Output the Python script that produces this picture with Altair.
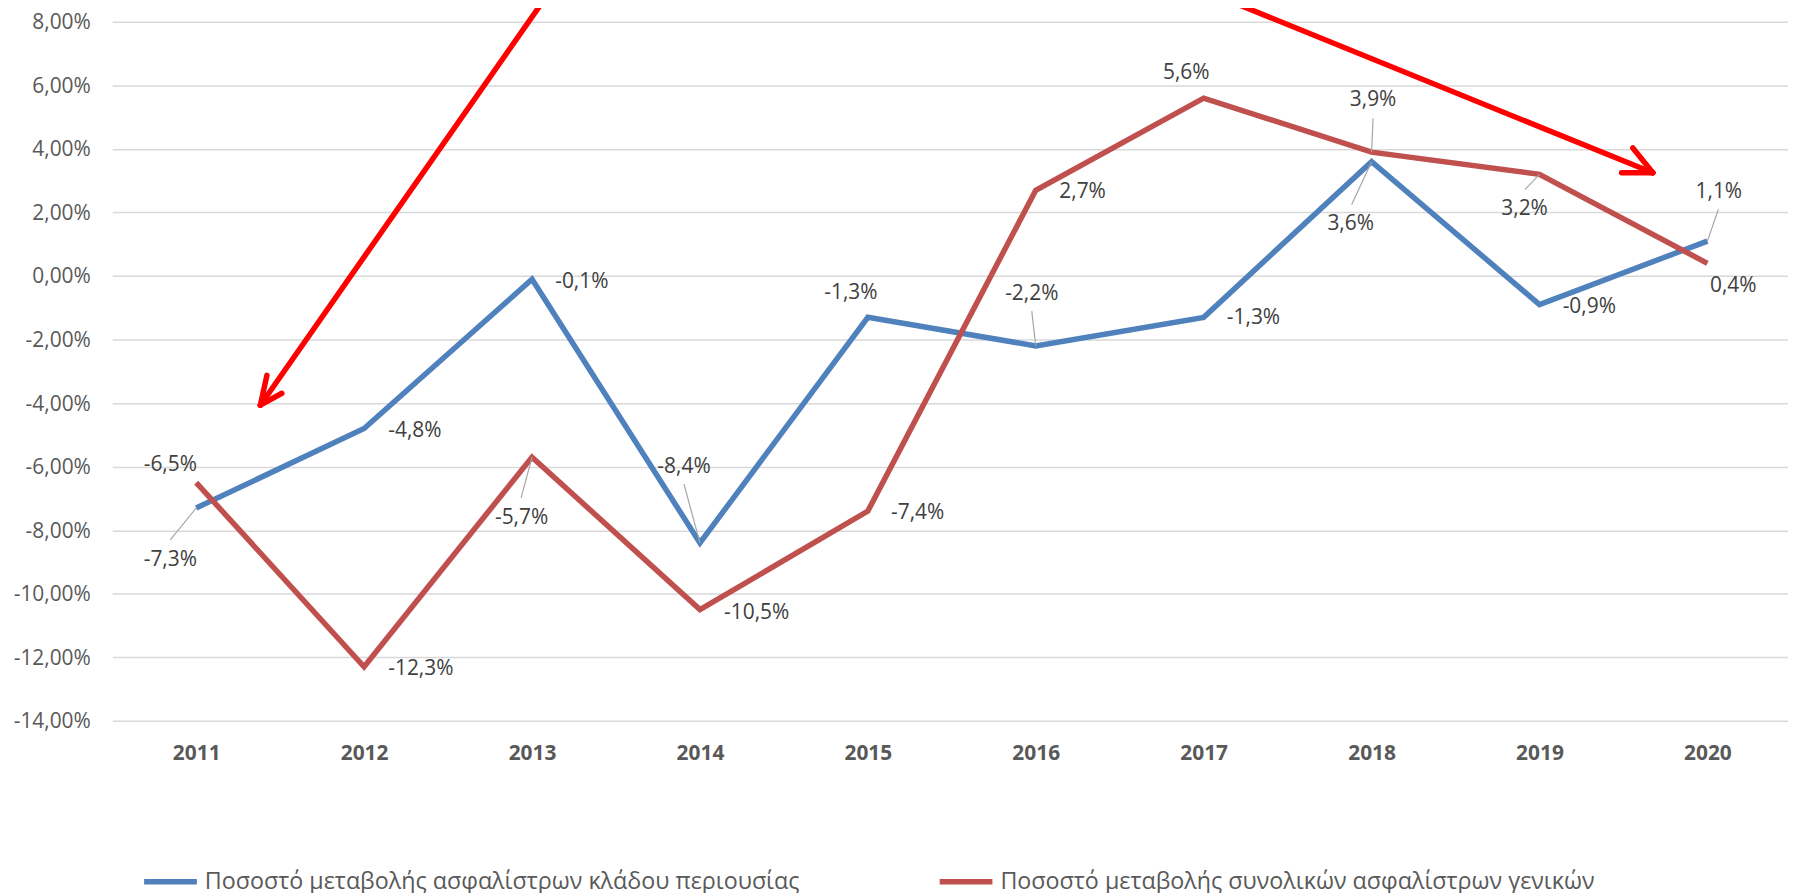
import altair as alt
import pandas as pd

# ---------------- data ----------------
years = [2011, 2012, 2013, 2014, 2015, 2016, 2017, 2018, 2019, 2020]
property_change = [-7.3, -4.8, -0.1, -8.4, -1.3, -2.2, -1.3, 3.6, -0.9, 1.1]
total_change = [-6.5, -12.3, -5.7, -10.5, -7.4, 2.7, 5.6, 3.9, 3.2, 0.4]
series_names = [
    "Ποσοστό μεταβολής ασφαλίστρων κλάδου περιουσίας",
    "Ποσοστό μεταβολής συνολικών ασφαλίστρων γενικών",
]
series_colors = ["#4F81BD", "#C0504D"]
y_ticks = [-14, -12, -10, -8, -6, -4, -2, 0, 2, 4, 6, 8]

# annotation arrows (data coordinates: year, percent)
arrow_x = [2013.063, 2011.421, 2011.510, 2017.167, 2019.489, 2019.556]
arrow_y = [8.63, -3.125, -3.690, 8.63, 3.248, 4.031]
arrow_x2 = [2011.382, 2011.382, 2011.382, 2019.675, 2019.675, 2019.675]
arrow_y2 = [-4.066, -4.066, -4.066, 3.248, 3.248, 3.248]

# ---------------- label placement (pixel offsets, style) ----------------
blue_label_offsets = [(-26, 52), (51, 3), (50, 2.5), (-16, -76), (-17, -24),
                      (-4, -52), (50, 1), (-21, 63), (50, 2), (11.5, -49.5)]
red_label_offsets = [(-26, -17.5), (57, 2), (-10.5, 61), (57, 3), (50, 1.5),
                     (47, 1.5), (-17.5, -25), (1.5, -52), (-15, 35), (26, 22.5)]
blue_leaders = {2011: (-26, 32), 2014: (-16, -59), 2016: (-4, -35),
                2018: (-20, 43), 2020: (11, -32)}
red_leaders = {2013: (-11, 41), 2018: (1.5, -34), 2019: (-14.5, 15)}

FONT = "Open Sans"


def pct_label(v):
    return f"{v:.1f}".replace(".", ",") + "%"


x_scale = alt.Scale(domain=[2010.5, 2020.48], nice=False, zero=False)
y_scale = alt.Scale(domain=[-14, 8], nice=False, zero=False)

x_axis = alt.Axis(
    values=years, format="d", title=None, ticks=False, domain=False, grid=False,
    labelFont=FONT, labelFontSize=21, labelFontWeight="bold", labelColor="#595959",
    labelPadding=22, labelFlush=False, labelOverlap=False,
)
y_axis = alt.Axis(
    values=y_ticks, title=None, ticks=False, domain=False, grid=True,
    gridColor="#D9D9D9", gridWidth=1.5,
    labelFont=FONT, labelFontSize=21, labelColor="#595959", labelPadding=22,
    labelOffset=1,
    labelExpr="(datum.value < 0 ? '-' : '') + replace(format(abs(datum.value), '.2f'), '.', ',') + '%'",
)

X = alt.X("year:Q", scale=x_scale, axis=x_axis)
Y = alt.Y("value:Q", scale=y_scale, axis=y_axis)

legend = alt.Legend(
    orient="none", legendX=29, legendY=834, direction="horizontal", title=None,
    symbolType="stroke", symbolSize=2809, symbolStrokeWidth=5.5,
    labelFont=FONT, labelFontSize=23.4, labelColor="#595959", labelLimit=1200,
    labelOffset=5, columnPadding=129, padding=0,
)
color = alt.Color("series:N", scale=alt.Scale(domain=series_names, range=series_colors),
                  legend=legend)

blue_df = pd.DataFrame({"year": years, "value": property_change, "series": series_names[0]})
red_df = pd.DataFrame({"year": years, "value": total_change, "series": series_names[1]})

layers = []
layers.append(alt.Chart(blue_df).mark_line(strokeWidth=5.5).encode(x=X, y=Y, color=color))
layers.append(alt.Chart(red_df).mark_line(strokeWidth=5.5).encode(x=X, y=Y, color=color))

# leader lines
for values, leaders in ((property_change, blue_leaders), (total_change, red_leaders)):
    for yr, (ox, oy) in leaders.items():
        v = values[years.index(yr)]
        d = pd.DataFrame({"year": [yr], "value": [v]})
        layers.append(
            alt.Chart(d).mark_rule(color="#A6A6A6", strokeWidth=1.2,
                                   x2Offset=ox, y2Offset=oy)
            .encode(x=X, y=Y, x2="year:Q", y2="value:Q")
        )

# data labels
for values, offsets in ((property_change, blue_label_offsets), (total_change, red_label_offsets)):
    for yr, v, (dx, dy) in zip(years, values, offsets):
        d = pd.DataFrame({"year": [yr], "value": [v], "label": [pct_label(v)]})
        layers.append(
            alt.Chart(d).mark_text(dx=dx, dy=dy, font=FONT, fontSize=21, color="#404040",
                                   align="center", baseline="middle")
            .encode(x=X, y=Y, text="label:N")
        )

# red annotation arrows
arrows_df = pd.DataFrame({"year": arrow_x, "value": arrow_y, "year2": arrow_x2, "value2": arrow_y2})
layers.append(
    alt.Chart(arrows_df).mark_rule(color="#FF0000", strokeWidth=5.5, strokeCap="round")
    .encode(x=X, y=Y, x2="year2:Q", y2="value2:Q")
)

chart = (
    alt.layer(*layers)
    .properties(
        width=1683, height=702,
        autosize=alt.AutoSizeParams(type="none"),
        padding={"left": 104.7, "top": 12, "right": 0, "bottom": 171},
        background="white",
    )
    .configure_view(strokeWidth=0)
)

chart.save("out.html", embed_options={"renderer": "svg", "actions": False})
